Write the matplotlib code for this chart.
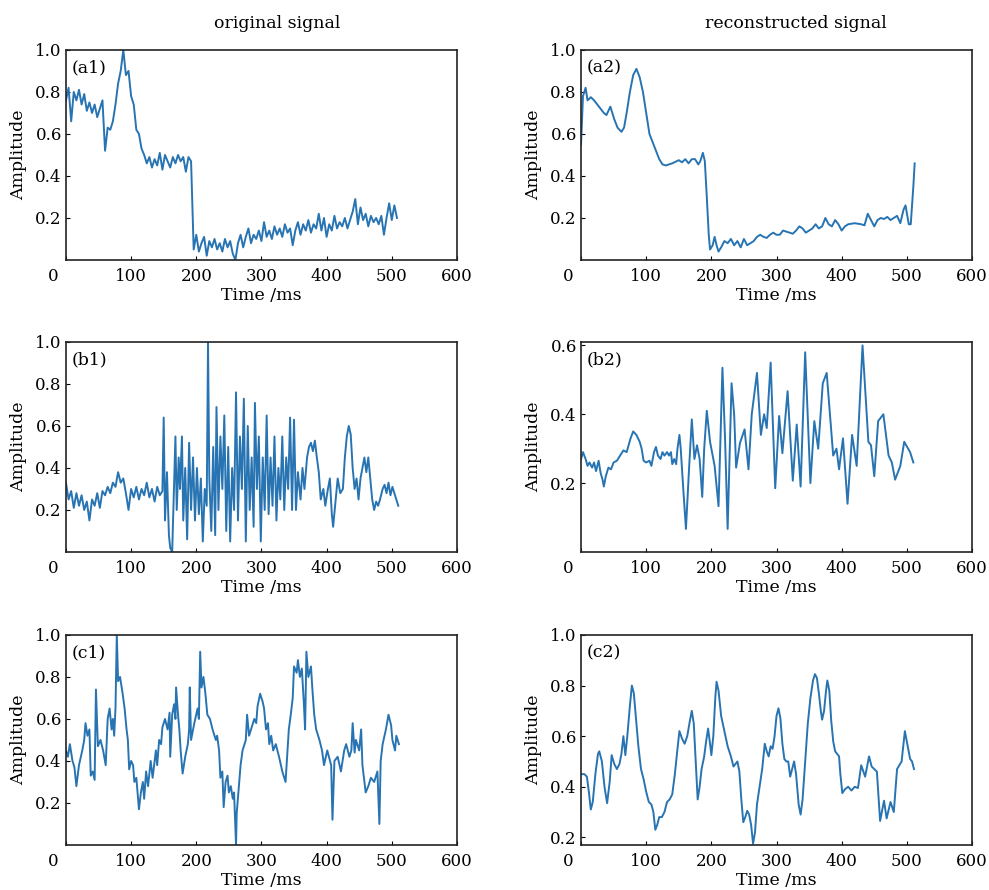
import numpy as np
import matplotlib
matplotlib.use('Agg')
import matplotlib.pyplot as plt
from matplotlib.transforms import ScaledTranslation

plt.rcParams['font.family'] = ['DejaVu Serif']

# ---------------- data (time in ms) ----------------
# (a1) original, sampled every 4 ms
a1_t = list(range(0, 512, 4))
a1_v = [0.76, 0.82, 0.66, 0.80, 0.76, 0.81, 0.74, 0.79, 0.71, 0.75,
        0.70, 0.74, 0.68, 0.72, 0.76, 0.52, 0.63, 0.62, 0.66, 0.74,
        0.84, 0.90, 1.00, 0.88, 0.90, 0.78, 0.74, 0.62, 0.60, 0.53,
        0.50, 0.46, 0.49, 0.44, 0.48, 0.45, 0.51, 0.43, 0.50, 0.47,
        0.44, 0.49, 0.46, 0.50, 0.47, 0.49, 0.42, 0.49, 0.47, 0.05,
        0.12, 0.04, 0.08, 0.11, 0.02, 0.09, 0.06, 0.10, 0.05, 0.08,
        0.04, 0.10, 0.06, 0.09, 0.03, 0.00, 0.08, 0.12, 0.06, 0.11,
        0.15, 0.08, 0.12, 0.10, 0.14, 0.09, 0.18, 0.11, 0.14, 0.10,
        0.16, 0.12, 0.15, 0.11, 0.17, 0.13, 0.15, 0.07, 0.14, 0.18,
        0.12, 0.17, 0.14, 0.19, 0.13, 0.17, 0.15, 0.22, 0.14, 0.20,
        0.11, 0.17, 0.14, 0.21, 0.15, 0.18, 0.16, 0.20, 0.15, 0.19,
        0.23, 0.29, 0.17, 0.25, 0.19, 0.22, 0.16, 0.21, 0.18, 0.20,
        0.17, 0.21, 0.12, 0.20, 0.27, 0.19, 0.26, 0.20]

# (a2) reconstructed
a2_t = [0, 3, 7, 10, 15, 20, 25, 30, 35, 39,
        45, 51, 56, 62, 66, 70, 75, 80, 85, 90,
        95, 100, 105, 110, 115, 120, 125, 130, 140, 150,
        155, 160, 165, 170, 175, 180, 183, 187, 190, 193,
        196, 198, 202, 205, 208, 211, 215, 220, 225, 230,
        235, 240, 245, 250, 255, 260, 265, 270, 275, 280,
        285, 290, 295, 300, 305, 310, 315, 320, 325, 330,
        335, 340, 345, 350, 355, 360, 365, 370, 375, 380,
        385, 390, 395, 400, 405, 410, 420, 430, 435, 440,
        445, 450, 455, 460, 465, 470, 475, 480, 485, 490,
        495, 498, 503, 506, 510, 512]
a2_v = [0.55, 0.78, 0.82, 0.76, 0.775, 0.76, 0.74, 0.72, 0.70, 0.69,
        0.73, 0.67, 0.63, 0.61, 0.63, 0.70, 0.80, 0.88, 0.91, 0.87,
        0.80, 0.70, 0.60, 0.56, 0.52, 0.48, 0.455, 0.45, 0.46, 0.475,
        0.465, 0.48, 0.46, 0.48, 0.48, 0.455, 0.47, 0.51, 0.47, 0.30,
        0.12, 0.05, 0.07, 0.11, 0.07, 0.04, 0.06, 0.09, 0.08, 0.10,
        0.07, 0.09, 0.06, 0.10, 0.07, 0.08, 0.09, 0.11, 0.12, 0.11,
        0.105, 0.12, 0.13, 0.12, 0.12, 0.14, 0.135, 0.13, 0.125, 0.14,
        0.16, 0.15, 0.13, 0.14, 0.15, 0.17, 0.15, 0.16, 0.20, 0.17,
        0.16, 0.19, 0.17, 0.14, 0.16, 0.17, 0.175, 0.17, 0.165, 0.22,
        0.19, 0.16, 0.19, 0.20, 0.195, 0.205, 0.19, 0.20, 0.21, 0.175,
        0.24, 0.26, 0.17, 0.17, 0.35, 0.46]

# (b1) original
b1_t = [0, 4, 8, 12, 16, 20, 24, 28, 32, 36,
        40, 44, 48, 52, 56, 60, 64, 68, 72, 76,
        80, 84, 88, 92, 96, 100, 104, 108, 112, 116,
        120, 124, 128, 132, 136, 140, 144, 148, 150, 152,
        155, 158, 160, 163, 165, 168, 170, 173, 175, 178,
        180, 183, 186, 189, 192, 195, 198, 201, 204, 207,
        210, 213, 216, 218, 220, 223, 226, 229, 231, 234,
        237, 240, 243, 246, 249, 252, 255, 258, 261, 264,
        267, 270, 273, 276, 279, 282, 285, 288, 290, 293,
        296, 299, 302, 305, 308, 311, 314, 317, 320, 323,
        326, 329, 332, 335, 338, 341, 344, 347, 350, 353,
        356, 360, 363, 366, 370, 373, 376, 379, 382, 385,
        388, 391, 395, 398, 402, 405, 408, 410, 414, 417,
        421, 425, 428, 431, 434, 437, 440, 443, 446, 449,
        452, 455, 458, 461, 464, 467, 470, 473, 476, 479,
        482, 486, 489, 492, 495, 498, 501, 504, 507, 510]
b1_v = [0.33, 0.25, 0.29, 0.21, 0.28, 0.22, 0.27, 0.20, 0.24, 0.15,
        0.25, 0.22, 0.28, 0.21, 0.29, 0.27, 0.31, 0.28, 0.33, 0.31,
        0.38, 0.33, 0.35, 0.28, 0.20, 0.30, 0.26, 0.31, 0.25, 0.30,
        0.27, 0.33, 0.26, 0.30, 0.24, 0.31, 0.27, 0.29, 0.64, 0.15,
        0.38, 0.08, 0.02, 0.00, 0.22, 0.55, 0.20, 0.45, 0.30, 0.55,
        0.15, 0.40, 0.06, 0.52, 0.20, 0.45, 0.15, 0.40, 0.18, 0.35,
        0.05, 0.30, 0.22, 1.00, 0.35, 0.10, 0.50, 0.08, 0.69, 0.20,
        0.55, 0.30, 0.65, 0.10, 0.50, 0.05, 0.40, 0.20, 0.76, 0.15,
        0.55, 0.30, 0.73, 0.05, 0.60, 0.20, 0.45, 0.12, 0.71, 0.30,
        0.55, 0.05, 0.45, 0.20, 0.65, 0.18, 0.45, 0.22, 0.55, 0.15,
        0.40, 0.25, 0.55, 0.20, 0.45, 0.30, 0.64, 0.20, 0.63, 0.20,
        0.38, 0.25, 0.40, 0.30, 0.45, 0.50, 0.52, 0.48, 0.53, 0.45,
        0.38, 0.25, 0.30, 0.22, 0.30, 0.35, 0.18, 0.12, 0.25, 0.35,
        0.28, 0.30, 0.45, 0.55, 0.60, 0.56, 0.40, 0.30, 0.35, 0.25,
        0.35, 0.40, 0.45, 0.38, 0.45, 0.35, 0.25, 0.20, 0.24, 0.22,
        0.25, 0.30, 0.32, 0.28, 0.33, 0.27, 0.31, 0.28, 0.25, 0.22]

# (b2) reconstructed
b2_t = [0, 3, 7, 10, 13, 17, 20, 23, 27, 30,
        33, 35, 38, 42, 46, 50, 55, 60, 65, 70,
        73, 76, 80, 85, 90, 93, 96, 100, 105, 108,
        112, 115, 118, 122, 125, 128, 132, 135, 138, 140,
        143, 146, 148, 151, 153, 157, 161, 166, 170, 174,
        178, 182, 186, 189, 193, 198, 205, 211, 214, 217,
        221, 225, 229, 231, 235, 238, 244, 251, 257, 262,
        270, 276, 281, 285, 291, 298, 304, 309, 317, 325,
        331, 337, 344, 352, 358, 364, 371, 377, 387, 392,
        396, 402, 409, 416, 423, 432, 441, 445, 450, 456,
        464, 472, 477, 482, 490, 496, 502, 505, 510]
b2_v = [0.27, 0.29, 0.27, 0.25, 0.26, 0.245, 0.26, 0.235, 0.265, 0.23,
        0.21, 0.19, 0.22, 0.245, 0.24, 0.26, 0.265, 0.28, 0.295, 0.29,
        0.31, 0.33, 0.35, 0.34, 0.32, 0.30, 0.265, 0.26, 0.265, 0.25,
        0.29, 0.305, 0.28, 0.27, 0.29, 0.28, 0.29, 0.28, 0.29, 0.255,
        0.27, 0.255, 0.30, 0.34, 0.30, 0.18, 0.067, 0.25, 0.385, 0.27,
        0.31, 0.27, 0.16, 0.30, 0.41, 0.32, 0.25, 0.133, 0.33, 0.535,
        0.33, 0.067, 0.35, 0.49, 0.40, 0.245, 0.317, 0.356, 0.24, 0.40,
        0.52, 0.34, 0.40, 0.36, 0.55, 0.185, 0.395, 0.287, 0.467, 0.207,
        0.37, 0.19, 0.58, 0.20, 0.38, 0.30, 0.49, 0.52, 0.28, 0.30,
        0.24, 0.33, 0.14, 0.34, 0.25, 0.60, 0.32, 0.31, 0.22, 0.38,
        0.40, 0.28, 0.26, 0.21, 0.25, 0.32, 0.30, 0.29, 0.26]

# (c1) original
c1_t = [0, 3, 6, 10, 13, 16, 20, 25, 28, 30,
        33, 36, 38, 41, 44, 46, 49, 53, 57, 61,
        64, 67, 70, 72, 74, 76, 78, 80, 83, 87,
        90, 93, 95, 97, 100, 103, 105, 108, 112, 115,
        118, 120, 123, 126, 130, 133, 138, 140, 143, 146,
        148, 152, 156, 159, 160, 163, 166, 168, 169, 172,
        174, 176, 179, 183, 187, 189, 190, 192, 197, 202,
        204, 206, 208, 211, 214, 217, 221, 225, 230, 232,
        235, 237, 240, 242, 245, 248, 250, 253, 256, 258,
        261, 262, 266, 268, 271, 276, 278, 281, 284, 287,
        289, 292, 294, 298, 302, 304, 307, 310, 312, 315,
        318, 322, 327, 332, 337, 339, 342, 345, 348, 350,
        354, 356, 359, 362, 365, 367, 369, 372, 376, 378,
        381, 384, 389, 393, 396, 401, 407, 409, 412, 417,
        422, 427, 430, 435, 438, 440, 443, 445, 450, 453,
        455, 458, 460, 464, 468, 473, 478, 481, 483, 486,
        491, 495, 499, 501, 505, 507, 511]
c1_v = [0.45, 0.42, 0.48, 0.40, 0.37, 0.28, 0.38, 0.45, 0.50, 0.58,
        0.52, 0.55, 0.33, 0.35, 0.31, 0.74, 0.47, 0.50, 0.45, 0.38,
        0.60, 0.65, 0.55, 0.60, 0.52, 0.65, 1.00, 0.78, 0.80, 0.72,
        0.65, 0.55, 0.50, 0.36, 0.40, 0.38, 0.30, 0.32, 0.17, 0.25,
        0.30, 0.22, 0.35, 0.28, 0.40, 0.32, 0.45, 0.38, 0.50, 0.48,
        0.56, 0.60, 0.55, 0.63, 0.42, 0.62, 0.67, 0.60, 0.75, 0.62,
        0.55, 0.45, 0.34, 0.42, 0.48, 0.55, 0.75, 0.50, 0.58, 0.65,
        0.60, 0.92, 0.75, 0.80, 0.72, 0.62, 0.60, 0.55, 0.50, 0.52,
        0.45, 0.32, 0.35, 0.18, 0.30, 0.33, 0.25, 0.28, 0.22, 0.25,
        0.00, 0.15, 0.30, 0.38, 0.45, 0.50, 0.62, 0.52, 0.55, 0.58,
        0.60, 0.58, 0.66, 0.72, 0.68, 0.65, 0.55, 0.58, 0.48, 0.52,
        0.45, 0.48, 0.42, 0.35, 0.30, 0.40, 0.55, 0.62, 0.70, 0.85,
        0.82, 0.88, 0.80, 0.84, 0.68, 0.55, 0.92, 0.80, 0.85, 0.75,
        0.62, 0.55, 0.50, 0.45, 0.38, 0.45, 0.38, 0.12, 0.40, 0.42,
        0.35, 0.45, 0.48, 0.42, 0.45, 0.58, 0.44, 0.50, 0.45, 0.55,
        0.38, 0.30, 0.25, 0.28, 0.32, 0.30, 0.35, 0.10, 0.40, 0.48,
        0.55, 0.62, 0.57, 0.50, 0.45, 0.52, 0.48]

# (c2) reconstructed
c2_t = [0, 5, 9, 12, 15, 18, 22, 26, 28, 32,
        36, 40, 44, 47, 51, 55, 59, 62, 65, 68,
        71, 75, 78, 81, 84, 88, 92, 96, 100, 104,
        108, 111, 114, 117, 120, 124, 128, 132, 136, 140,
        144, 148, 151, 155, 159, 163, 167, 170, 173, 176,
        179, 182, 185, 189, 192, 195, 198, 200, 203, 206,
        208, 211, 215, 220, 225, 230, 234, 237, 240, 243,
        246, 249, 252, 255, 258, 261, 264, 267, 270, 274,
        278, 282, 285, 288, 291, 294, 297, 300, 303, 306,
        309, 312, 315, 318, 321, 324, 327, 330, 334, 337,
        340, 344, 348, 352, 356, 359, 362, 365, 368, 370,
        373, 376, 378, 381, 384, 387, 390, 393, 396, 398,
        401, 405, 410, 415, 420, 425, 430, 436, 442, 446,
        450, 454, 459, 465, 469, 475, 480, 485, 492, 497,
        502, 505, 508, 511]
c2_v = [0.45, 0.45, 0.44, 0.38, 0.31, 0.34, 0.45, 0.53, 0.54, 0.50,
        0.40, 0.335, 0.42, 0.525, 0.49, 0.47, 0.49, 0.53, 0.60, 0.525,
        0.60, 0.72, 0.80, 0.77, 0.68, 0.56, 0.47, 0.43, 0.38, 0.34,
        0.33, 0.30, 0.23, 0.25, 0.28, 0.28, 0.30, 0.34, 0.35, 0.37,
        0.45, 0.55, 0.62, 0.59, 0.57, 0.60, 0.66, 0.70, 0.65, 0.50,
        0.35, 0.40, 0.47, 0.52, 0.58, 0.63, 0.57, 0.525, 0.60, 0.75,
        0.815, 0.78, 0.68, 0.62, 0.56, 0.52, 0.48, 0.49, 0.50, 0.46,
        0.35, 0.26, 0.28, 0.305, 0.29, 0.25, 0.175, 0.22, 0.33, 0.40,
        0.47, 0.57, 0.54, 0.52, 0.56, 0.55, 0.60, 0.68, 0.71, 0.67,
        0.57, 0.51, 0.50, 0.50, 0.44, 0.47, 0.50, 0.45, 0.33, 0.29,
        0.35, 0.50, 0.65, 0.75, 0.82, 0.845, 0.83, 0.77, 0.70, 0.665,
        0.70, 0.78, 0.82, 0.78, 0.66, 0.58, 0.54, 0.53, 0.52, 0.45,
        0.375, 0.39, 0.40, 0.385, 0.40, 0.395, 0.485, 0.44, 0.52, 0.48,
        0.47, 0.46, 0.265, 0.345, 0.275, 0.34, 0.30, 0.47, 0.50, 0.62,
        0.55, 0.51, 0.50, 0.47]

yticks_std = [0.2, 0.4, 0.6, 0.8, 1.0]
# (t, y, label, ylim, yticks)
panels = [
    [(a1_t, a1_v, '(a1)', (0, 1.0), yticks_std),
     (a2_t, a2_v, '(a2)', (0, 1.0), yticks_std)],
    [(b1_t, b1_v, '(b1)', (0, 1.0), yticks_std),
     (b2_t, b2_v, '(b2)', (0, 0.61), [0.2, 0.4, 0.6])],
    [(c1_t, c1_v, '(c1)', (0, 1.0), yticks_std),
     (c2_t, c2_v, '(c2)', (0.17, 1.0), yticks_std)],
]

line_c = '#2874b2'
fig = plt.figure(figsize=(9.89, 8.90), dpi=100)
lefts = [0.0667, 0.5875]
bottoms = [0.7079, 0.3798, 0.0506]
w, h = 0.3953, 0.236

for r in range(3):
    for c in range(2):
        t, v, lab, ylim, yt = panels[r][c]
        ax = fig.add_axes([lefts[c], bottoms[r], w, h])
        ax.plot(t, v, color=line_c, lw=1.4)
        ax.set_xlim(0, 600)
        ax.set_ylim(*ylim)
        ax.set_xticks(range(0, 601, 100))
        ax.set_yticks(yt)
        ax.set_yticklabels(['%.1f' % y for y in yt])
        ax.tick_params(direction='in', length=3, width=0.8, labelsize=12,
                       top=False, right=False)
        ax.tick_params(axis='x', pad=6)
        ax.tick_params(axis='y', pad=3)
        for s in ax.spines.values():
            s.set_linewidth(1.2)
            s.set_color('#222222')
        ax.set_xlabel('Time /ms', fontsize=12.5, labelpad=1)
        ax.set_ylabel('Amplitude', fontsize=12.5, labelpad=6)
        ax.text(0.015, 0.915, lab, transform=ax.transAxes, fontsize=12.5,
                va='center', ha='left')
        # the "0" label sits a bit left of the axis in the original
        zl = ax.get_xticklabels()[0]
        zl.set_transform(zl.get_transform() + ScaledTranslation(-0.13, 0, fig.dpi_scale_trans))

fig.text(0.280, 0.974, 'original signal', ha='center', va='center', fontsize=12.5)
fig.text(0.805, 0.974, 'reconstructed signal', ha='center', va='center', fontsize=12.5)

fig.savefig('out.png', dpi=100)
